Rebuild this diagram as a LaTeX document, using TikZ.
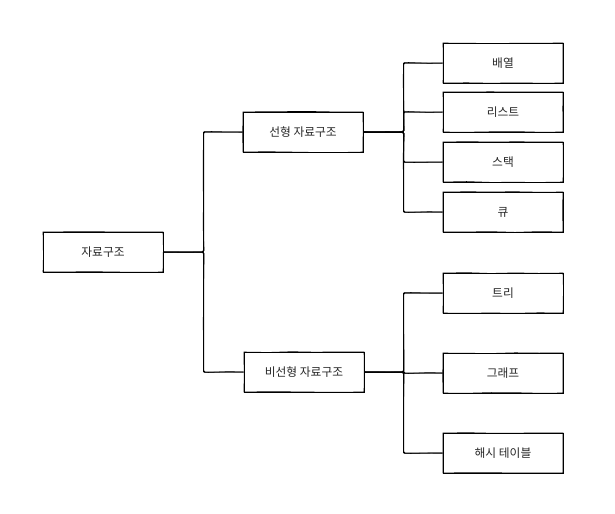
\documentclass[tikz,border=0pt]{standalone}
\usepackage{fontspec}
\newfontfamily\krfont{Noto Sans CJK KR}
\usetikzlibrary{positioning, calc, decorations.pathmorphing}
\tikzset{
  sketch/.style={decorate, decoration={random steps, segment length=18pt, amplitude=0.35pt}},
  tbox/.style={rectangle, draw=black, line width=0.75pt, fill=white,
               minimum width=90pt, minimum height=30pt, inner sep=0pt,
               align=center, text=black!85, font=\krfont\fontsize{8.8}{10}\selectfont,
               postaction={draw=black, line width=0.45pt, sketch}},
  link/.style={draw=black, line width=0.75pt, line join=round, rounded corners=1pt,
               postaction={draw=black, line width=0.4pt, sketch}},
}

\begin{document}
\begin{tikzpicture}[x=0.75pt, y=-0.75pt]
  \useasboundingbox (0,0) rectangle (615,514);

  % Root and two groups
  \node[tbox] (ds) at (103, 252) {자료구조};
  \node[tbox] (lin) at (303, 132) {선형 자료구조};
  \node[tbox] (nonlin) at (304, 372) {비선형 자료구조};

  % Linear leaves
  \node[tbox] (arr) at (503, 63) {배열};
  \node[tbox] (list) at (503, 112) {리스트};
  \node[tbox] (stack) at (503, 162) {스택};
  \node[tbox] (queue) at (503, 212) {큐};

  % Non-linear leaves
  \node[tbox] (tree) at (503, 293) {트리};
  \node[tbox] (graph) at (503, 373) {그래프};
  \node[tbox] (hash) at (503, 453) {해시 테이블};

  % Connectors
  \draw[link] (ds.east) -- ++(40,0) |- (lin.west);
  \draw[link] (ds.east) -- ++(40,0) |- (nonlin.west);
  \foreach \leaf in {arr, list, stack, queue}
    \draw[link] (lin.east) -- ++(40,0) |- (\leaf.west);
  \foreach \leaf in {tree, graph, hash}
    \draw[link] (nonlin.east) -- ++(39,0) |- (\leaf.west);
\end{tikzpicture}
\end{document}
